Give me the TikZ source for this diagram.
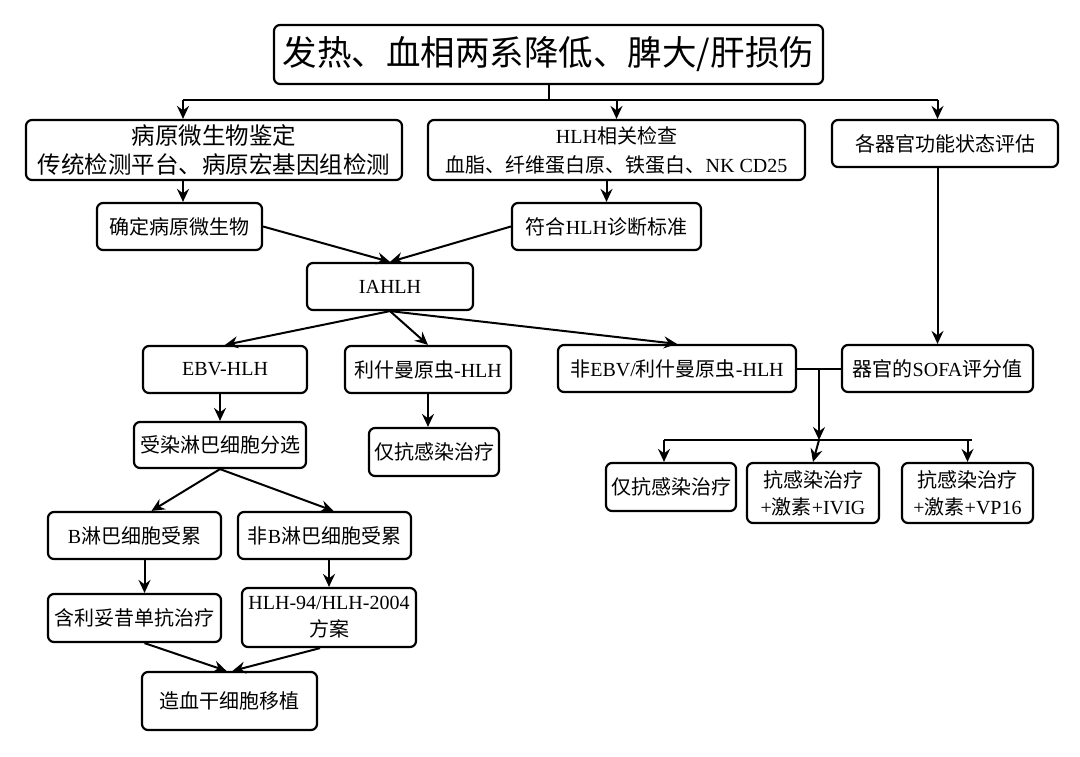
\documentclass[tikz,border=0pt]{standalone}
\usepackage{fontspec}
\setmainfont{Liberation Serif}
\newfontfamily\cjk{Noto Sans CJK SC}
\newcommand\zh[1]{{\cjk #1}}
\usetikzlibrary{arrows.meta,calc}

\begin{document}
\begin{tikzpicture}[x=0.5pt, y=-0.5pt, line width=1pt,
  box/.style={draw, line width=1.1pt, rounded corners=3pt, align=center, inner sep=1pt,
    font=\fontsize{10}{13.5}\selectfont},
  arr/.style={-{Stealth[length=6.5pt, width=6pt, inset=2.2pt]}}]
  \useasboundingbox (0,0) rectangle (1080,756);
  \node[box, minimum width=274.5pt, minimum height=29.5pt, font=\fontsize{17.25}{20}\selectfont\cjk] (top) at (548.5,54.5) {发热、血相两系降低、脾大/肝损伤};
  \node[box, minimum width=188pt, minimum height=30pt, font=\fontsize{11.75}{14.5}\selectfont\cjk] (path) at (214,150) {病原微生物鉴定\\传统检测平台、病原宏基因组检测};
  \node[box, minimum width=188.5pt, minimum height=30pt, font=\fontsize{10}{14.5}\selectfont] (hlh) at (616.5,150) {HLH\zh{相关检查}\\\zh{血脂、纤维蛋白原、铁蛋白、}NK CD25};
  \node[box, minimum width=113pt, minimum height=23.5pt] (organ) at (945,143.5) {\zh{各器官功能状态评估}};
  \node[box, minimum width=82.5pt, minimum height=23.5pt] (conf) at (179.5,226.5) {\zh{确定病原微生物}};
  \node[box, minimum width=94.5pt, minimum height=23.5pt] (crit) at (606.5,226.5) {\zh{符合}HLH\zh{诊断标准}};
  \node[box, minimum width=83pt, minimum height=23.5pt] (ia) at (390,286.5) {IAHLH};
  \node[box, minimum width=82pt, minimum height=23.5pt] (ebv) at (225,369.5) {EBV-HLH};
  \node[box, minimum width=83pt, minimum height=23.5pt] (leish) at (428,369.5) {\zh{利什曼原虫}-HLH};
  \node[box, minimum width=119pt, minimum height=23.5pt] (other) at (677,368.5) {\zh{非}EBV/\zh{利什曼原虫}-HLH};
  \node[box, minimum width=95.5pt, minimum height=23.5pt] (sofa) at (937.5,368.5) {\zh{器官的}SOFA\zh{评分值}};
  \node[box, minimum width=86pt, minimum height=23pt] (sort) at (220,445) {\zh{受染淋巴细胞分选}};
  \node[box, minimum width=65pt, minimum height=24pt] (antia) at (434,452) {\zh{仅抗感染治疗}};
  \node[box, minimum width=86.5pt, minimum height=23.5pt] (bly) at (134.5,535.5) {B\zh{淋巴细胞受累}};
  \node[box, minimum width=86.5pt, minimum height=23.5pt] (nonb) at (324.5,535.5) {\zh{非}B\zh{淋巴细胞受累}};
  \node[box, minimum width=86.5pt, minimum height=24pt] (ritux) at (134.5,618) {\zh{含利妥昔单抗治疗}};
  \node[box, minimum width=87pt, minimum height=29.5pt] (proto) at (329,617.5) {HLH-94/HLH-2004\\\zh{方案}};
  \node[box, minimum width=87.5pt, minimum height=29pt] (hsct) at (229.5,701) {\zh{造血干细胞移植}};
  \node[box, minimum width=65pt, minimum height=24pt] (antib) at (671,487) {\zh{仅抗感染治疗}};
  \node[box, minimum width=66pt, minimum height=30pt] (ivig) at (813,493) {\zh{抗感染治疗}\\+\zh{激素}+IVIG};
  \node[box, minimum width=65.5pt, minimum height=30pt] (vp) at (967.5,493) {\zh{抗感染治疗}\\+\zh{激素}+VP16};

  \coordinate (tl) at (183,100);
  \coordinate (tr) at (sofa.north |- tl);
  \draw (top.south) -- (top.south |- tl);
  \draw (tl) -- (tr);
  \draw[arr] (tl) -- (tl |- path.north);
  \draw[arr] (hlh.north |- tl) -- (hlh.north);
  \draw[arr] (tr) -- (tr |- organ.north);
  \draw[arr] (tl |- path.south) -- (tl |- conf.north);
  \draw[arr] (crit.north |- hlh.south) -- (crit.north);
  \draw[arr] (conf.east) -- (ia.north);
  \draw[arr] (crit.west) -- (ia.north);
  \draw[arr] (ia.south) -- (ebv.north);
  \draw[arr] (ia.south) -- (leish.north);
  \draw[arr] (ia.south) -- (other.north);
  \draw[arr] (sofa.north |- organ.south) -- (sofa.north);

  \coordinate (mid) at ($(other.east)!0.5!(sofa.west)$);
  \coordinate (bl) at (664,440);
  \coordinate (br) at (972,440);
  \draw (other.east) -- (sofa.west);
  \draw[arr] (mid) -- (mid |- bl);
  \draw (bl) -- (br);
  \draw[arr] (bl) -- (bl |- antib.north);
  \draw[arr] (mid |- bl) -- (ivig.north);
  \draw[arr] (vp.north |- bl) -- (vp.north);

  \draw[arr] (sort.north |- ebv.south) -- (sort.north);
  \draw[arr] (leish.south) -- (leish.south |- antia.north);
  \draw[arr] (sort.south) -- ($(bly.north)+(17,0)$);
  \draw[arr] (sort.south) -- ($(nonb.north)+(9,0)$);
  \draw[arr] ($(bly.south)+(10,0)$) -- ($(ritux.north)+(10,0)$);
  \draw[arr] (proto.north |- nonb.south) -- (proto.north);
  \draw[arr] ($(ritux.south)+(10,0)$) -- ($(hsct.north)+(-3,0)$);
  \draw[arr] ($(proto.south)+(-9,0)$) -- ($(hsct.north)+(3,0)$);
\end{tikzpicture}
\end{document}
